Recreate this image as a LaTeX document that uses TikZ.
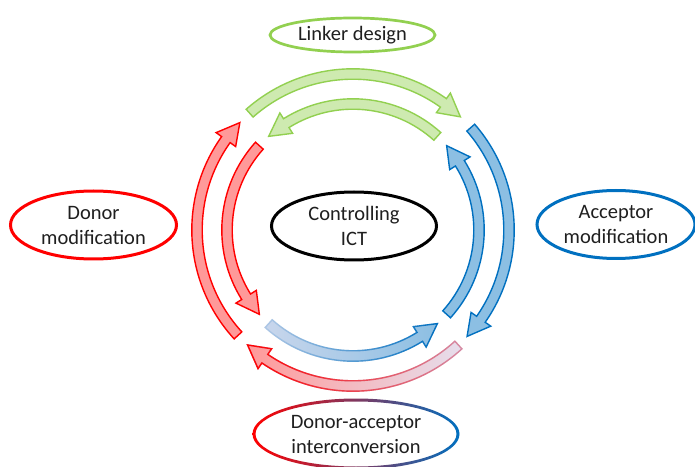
\documentclass[tikz,border=0pt]{standalone}
\usepackage{fontspec}
\setmainfont{Carlito}
\usetikzlibrary{shapes.geometric,fadings}
\definecolor{lgreen}{HTML}{92D050}
\definecolor{lblue}{HTML}{0070C0}
\definecolor{lred}{HTML}{FF0000}
\definecolor{mauve}{RGB}{214,140,165}
\definecolor{lav}{RGB}{230,222,236}
\definecolor{paleblue}{RGB}{200,214,236}
\definecolor{paleblueline}{RGB}{175,200,230}
\definecolor{midlav}{RGB}{205,180,220}
\tikzfading[name=fadeLeftOpaque, left color=transparent!0, right color=transparent!100]
\tikzfading[name=fadeHalf, left color=transparent!100, middle color=transparent!0, right color=transparent!0]
% arrow geometry
\def\bw{5.2}\def\hw{12}\def\hl{22}
\newcommand\setarrow[3]{% radius, tail angle, tip angle
  \pgfmathsetmacro\rrO{#1+\bw}%
  \pgfmathsetmacro\rrI{#1-\bw}%
  \pgfmathsetmacro\rhO{#1+\hw}%
  \pgfmathsetmacro\rhI{#1-\hw}%
  \pgfmathsetmacro\rdd{\hl/(#1)*180/pi}%
  \pgfmathsetmacro\rab{#3+((#2>#3)*2-1)*\rdd}%
  \def\rR{#1}\def\rT{#2}\def\rP{#3}%
}
\newcommand\AP{(\rT:\rrO) arc[start angle=\rT, end angle=\rab, radius=\rrO] -- (\rab:\rhO) -- (\rP:\rR) -- (\rab:\rhI) -- (\rab:\rrI) arc[start angle=\rab, end angle=\rT, radius=\rrI] -- cycle}
\begin{document}
\begin{tikzpicture}[x=1pt,y=1pt,
  lbl/.style={font=\fontsize{20.5}{25}\selectfont, text=black!88, align=center, inner sep=0pt, ellipse},
  arr/.style={line width=1.4pt, line join=miter},
  garr/.style={arr, draw=lgreen, fill=lgreen!45},
  barr/.style={arr, draw=lblue, fill=lblue!45},
  rarr/.style={arr, draw=lred, fill=lred!40}]
\useasboundingbox (0,0) rectangle (695,466);
\fill[white] (0,0) rectangle (695,466);
\begin{scope}[shift={(353,236)}]
  % outer ring (clockwise)
  \setarrow{156}{131.5}{46.5}\path[garr] \AP;
  \setarrow{156}{41}{-43}\path[barr] \AP;
  \setarrow{156}{222.5}{136.5}\path[rarr] \AP;
  \setarrow{156}{-47.5}{-132.5}
  \shade[left color=lred!40, right color=lav] \AP;
  \draw[arr, mauve] \AP;
  \draw[arr, lred, path fading=fadeLeftOpaque] \AP;
  % inner ring (counter-clockwise)
  \setarrow{126}{48}{132}\path[garr] \AP;
  \setarrow{126}{138}{222}\path[rarr] \AP;
  \setarrow{126}{-42}{42}\path[barr] \AP;
  \setarrow{126}{228}{312}
  \shade[left color=paleblue, middle color=lblue!45, right color=lblue!45] \AP;
  \draw[arr, paleblueline] \AP;
  \draw[arr, lblue, path fading=fadeHalf] \AP;
\end{scope}
\node[lbl, draw=lgreen, line width=2.7pt, minimum width=165, minimum height=34] (linker) at (352.5,431) {Linker design};
\node[lbl, draw=lred, line width=3pt, minimum width=166, minimum height=68] (donor) at (93.5,241) {Donor\\modification};
\node[lbl, draw=lblue, line width=3pt, minimum width=158, minimum height=68] (acceptor) at (616,241.5) {Acceptor\\modification};
\node[lbl, draw=black, line width=3pt, minimum width=165, minimum height=68] (ict) at (354,240) {Controlling\\ICT};
\node[lbl, minimum width=204, minimum height=68] (da) at (356,32) {Donor-acceptor\\interconversion};
\shade[left color=lred, middle color=midlav, right color=lblue, even odd rule]
  (da.center) ellipse[x radius=103.5, y radius=35.5]
  (da.center) ellipse[x radius=100.5, y radius=32.5];
\end{tikzpicture}
\end{document}
